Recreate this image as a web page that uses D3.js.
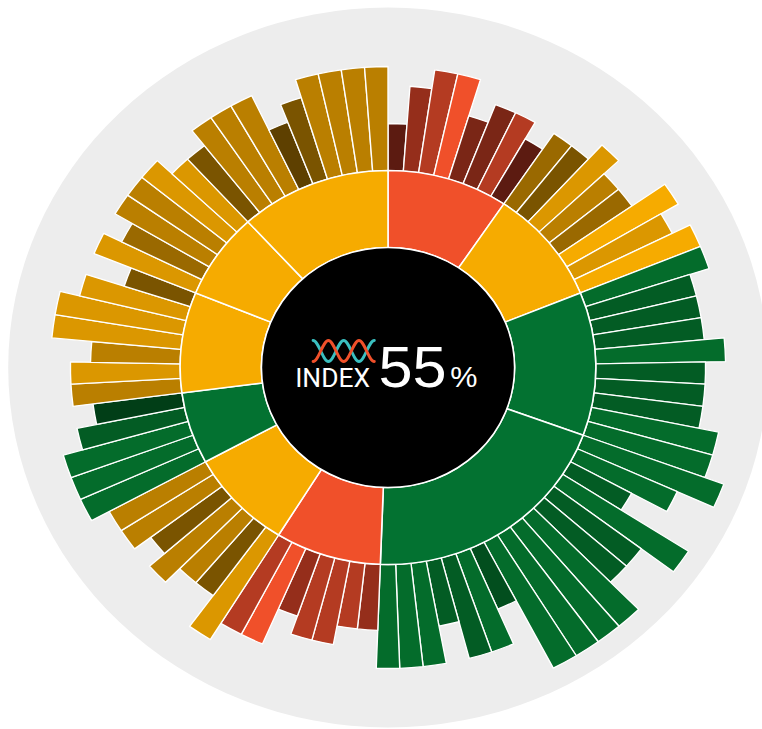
<!DOCTYPE html>
<html><head><meta charset="utf-8">
<script src="https://cdn.jsdelivr.net/npm/d3@7"></script>
<style>html,body{margin:0;padding:0;background:#fff;} svg{display:block}</style>
</head><body>
<svg id="chart" width="762" height="729"></svg>
<script>
// ---- data ----
const groups = ["A","B","C","D","E","F","G","H","I","J"];
const groupStatus = ["red","yellow","green","green","red","yellow","green","yellow","yellow","yellow"];
const barLevels = [
  [1,3,4,4,2,3,3,2],
  [3,3,4,3,3,5,4,5],
  [5,4,4,4,5,4,4,4,5,5],
  [6,4,2,6,4,4,6,6,6,6,2,4,4,2,4,4,4],
  [2,2,3,3,2,4,4],
  [5,3,3,4,3,4,4],
  [5,5,5,4,3],
  [4,4,3,5,5,4,2],
  [4,3,4,4,4,3],
  [3,4,4,4,2,3,4,4,4,4]
];
const barShades = [
  [4,2,1,0,3,3,1,4],
  [3,4,1,2,3,0,1,0],
  [0,1,1,1,0,1,1,1,0,0],
  [0,0,1,0,1,1,0,0,0,0,2,0,1,1,0,0,0],
  [2,1,1,1,2,0,1],
  [1,4,2,2,4,2,2],
  [0,0,0,1,3],
  [2,1,2,1,1,1,4],
  [1,3,2,2,1,1],
  [4,2,2,2,5,4,2,2,2,2]
];
const indexValue = 55;
const indexLabel = "INDEX";

// ---- styles ----
const ringColor = {red:"#F0502A", yellow:"#F6AB00", green:"#037231"};
const shadeColor = {
  red:   ["#F0502A","#B43B22","#952E1B","#7A2616","#5C1B11"],
  yellow:["#F6AB00","#DB9700","#BA7F00","#9A6900","#7A5400","#5E4000"],
  green: ["#046C2B","#035C24","#024E1E","#013E17"]
};

// flatten bars
const bars = [];
barLevels.forEach((lv, g) => lv.forEach((v, i) => bars.push({id: g + "-" + i, group: g, level: v, shade: barShades[g][i]})));

const svg = d3.select("#chart");
const cx = 388, cy = 367.5, sx = 1.055;
const root = svg.append("g").attr("transform", `translate(${cx},${cy}) scale(${sx},1)`);

root.append("circle").attr("r", 360).attr("fill", "#EDEDED");

const angle = d3.scaleBand().domain(bars.map(d => d.id)).range([0, 2 * Math.PI]).paddingInner(0).paddingOuter(0);
const radius = d3.scaleLinear().domain([1, 6]).range([244, 339]);
const rInner = 120, rRing = 197;

const barArc = d3.arc()
  .innerRadius(rRing)
  .outerRadius(d => radius(d.level))
  .startAngle(d => angle(d.id))
  .endAngle(d => angle(d.id) + angle.bandwidth());

root.append("g").selectAll("path").data(bars).join("path")
  .attr("d", barArc)
  .attr("fill", d => shadeColor[groupStatus[d.group]][d.shade])
  .attr("stroke", "#fff").attr("stroke-width", 1.3).attr("stroke-linejoin", "round");

// inner ring segments
const segs = groups.map((name, g) => {
  const ids = bars.filter(b => b.group === g).map(b => b.id);
  return {name, g, start: angle(ids[0]), end: angle(ids[ids.length - 1]) + angle.bandwidth()};
});
const segArc = d3.arc().innerRadius(rInner).outerRadius(rRing).startAngle(d => d.start).endAngle(d => d.end);
root.append("g").selectAll("path").data(segs).join("path")
  .attr("d", segArc)
  .attr("fill", d => ringColor[groupStatus[d.g]])
  .attr("stroke", "#fff").attr("stroke-width", 1.5);

root.append("circle").attr("r", rInner).attr("fill", "#000").attr("stroke", "#fff").attr("stroke-width", 1.5);

// logo (two anti-phase waves)
function wave(x0, P, n, yA, yB) {
  let p = `M${x0},${yA} C${x0 + 0.18 * P},${yA} ${x0 + 0.32 * P},${yB} ${x0 + 0.5 * P},${yB}`;
  let cur = yB;
  for (let k = 1; k < n * 2; k++) {
    const nx = x0 + 0.5 * P * (k + 1);
    const ny = cur === yB ? yA : yB;
    p += ` S${nx - 0.18 * P},${ny} ${nx},${ny}`;
    cur = ny;
  }
  return p;
}
const logo = root.append("g");
logo.append("path").attr("d", wave(-71, 29, 2, -27, -6)).attr("fill", "none")
  .attr("stroke", "#3ABFC0").attr("stroke-width", 2.8).attr("stroke-linecap", "round");
logo.append("path").attr("d", wave(-71, 29, 2, -6, -27)).attr("fill", "none")
  .attr("stroke", "#F0502A").attr("stroke-width", 2.8).attr("stroke-linecap", "round");

root.append("text").text(indexLabel)
  .attr("x", -88).attr("y", 19.5)
  .attr("textLength", 71).attr("lengthAdjust", "spacingAndGlyphs")
  .attr("font-family", "Roboto, 'Liberation Sans', sans-serif").attr("font-weight", 400)
  .attr("font-size", 26).attr("fill", "#fff");
root.append("text").text(indexValue)
  .attr("x", -9).attr("y", 19.5)
  .attr("font-family", "'Liberation Sans', Arial, sans-serif")
  .attr("font-size", 58).attr("fill", "#fff");
root.append("text").text("%")
  .attr("x", 59).attr("y", 19.5)
  .attr("font-family", "'Liberation Sans', Arial, sans-serif")
  .attr("font-size", 29).attr("fill", "#fff");
</script>
</body></html>
